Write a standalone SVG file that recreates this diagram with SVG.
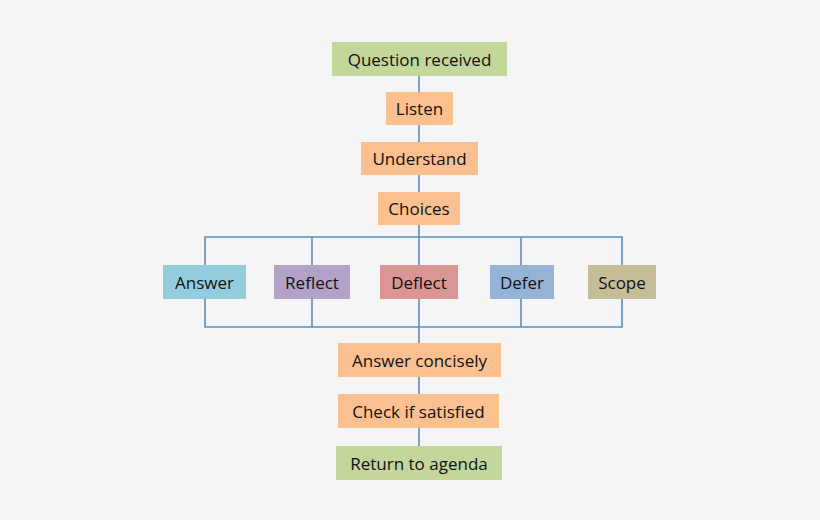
<svg xmlns="http://www.w3.org/2000/svg" width="820" height="520" viewBox="0 0 820 520">
<style>
text{font-family:"Open Sans","Liberation Sans",sans-serif;font-size:17px;fill:#111;text-anchor:middle;dominant-baseline:central}
.c line,.c polyline{stroke:#5b8ec0;stroke-width:1.6;fill:none}
.g{fill:#c3d69b}.o{fill:#fac090}
</style>
<rect width="820" height="520" fill="#f5f5f5"/>
<g class="c">
<line x1="419" y1="76" x2="419" y2="446"/>
<polyline points="205,265 205,237 622,237 622,265"/>
<polyline points="205,299 205,327 622,327 622,299"/>
<line x1="312" y1="237" x2="312" y2="265"/><line x1="312" y1="299" x2="312" y2="327"/>
<line x1="521" y1="237" x2="521" y2="265"/><line x1="521" y1="299" x2="521" y2="327"/>
</g>
<g id="q"><rect class="g" x="332" y="42" width="175" height="34"/><text x="419.5" y="59">Question received</text></g>
<g id="listen"><rect class="o" x="386" y="92" width="67" height="33"/><text x="419.5" y="108.5">Listen</text></g>
<g id="understand"><rect class="o" x="361" y="142" width="117" height="33"/><text x="419.5" y="158.5">Understand</text></g>
<g id="choices"><rect class="o" x="378" y="192" width="82" height="33"/><text x="419" y="208.5">Choices</text></g>
<g id="answer"><rect fill="#93cddd" x="163" y="265" width="83" height="34"/><text x="204.5" y="282">Answer</text></g>
<g id="reflect"><rect fill="#b3a2c7" x="274" y="265" width="76" height="34"/><text x="312" y="282">Reflect</text></g>
<g id="deflect"><rect fill="#d99694" x="380" y="265" width="78" height="34"/><text x="419" y="282">Deflect</text></g>
<g id="defer"><rect fill="#95b3d7" x="490" y="265" width="64" height="34"/><text x="522" y="282">Defer</text></g>
<g id="scope"><rect fill="#c4bd97" x="588" y="265" width="68" height="34"/><text x="622" y="282">Scope</text></g>
<g id="concise"><rect class="o" x="338" y="343" width="163" height="34"/><text x="419.5" y="360">Answer concisely</text></g>
<g id="check"><rect class="o" x="338" y="394" width="161" height="34"/><text x="418.5" y="411">Check if satisfied</text></g>
<g id="return"><rect class="g" x="336" y="446" width="166" height="34"/><text x="419" y="463">Return to agenda</text></g>
</svg>
